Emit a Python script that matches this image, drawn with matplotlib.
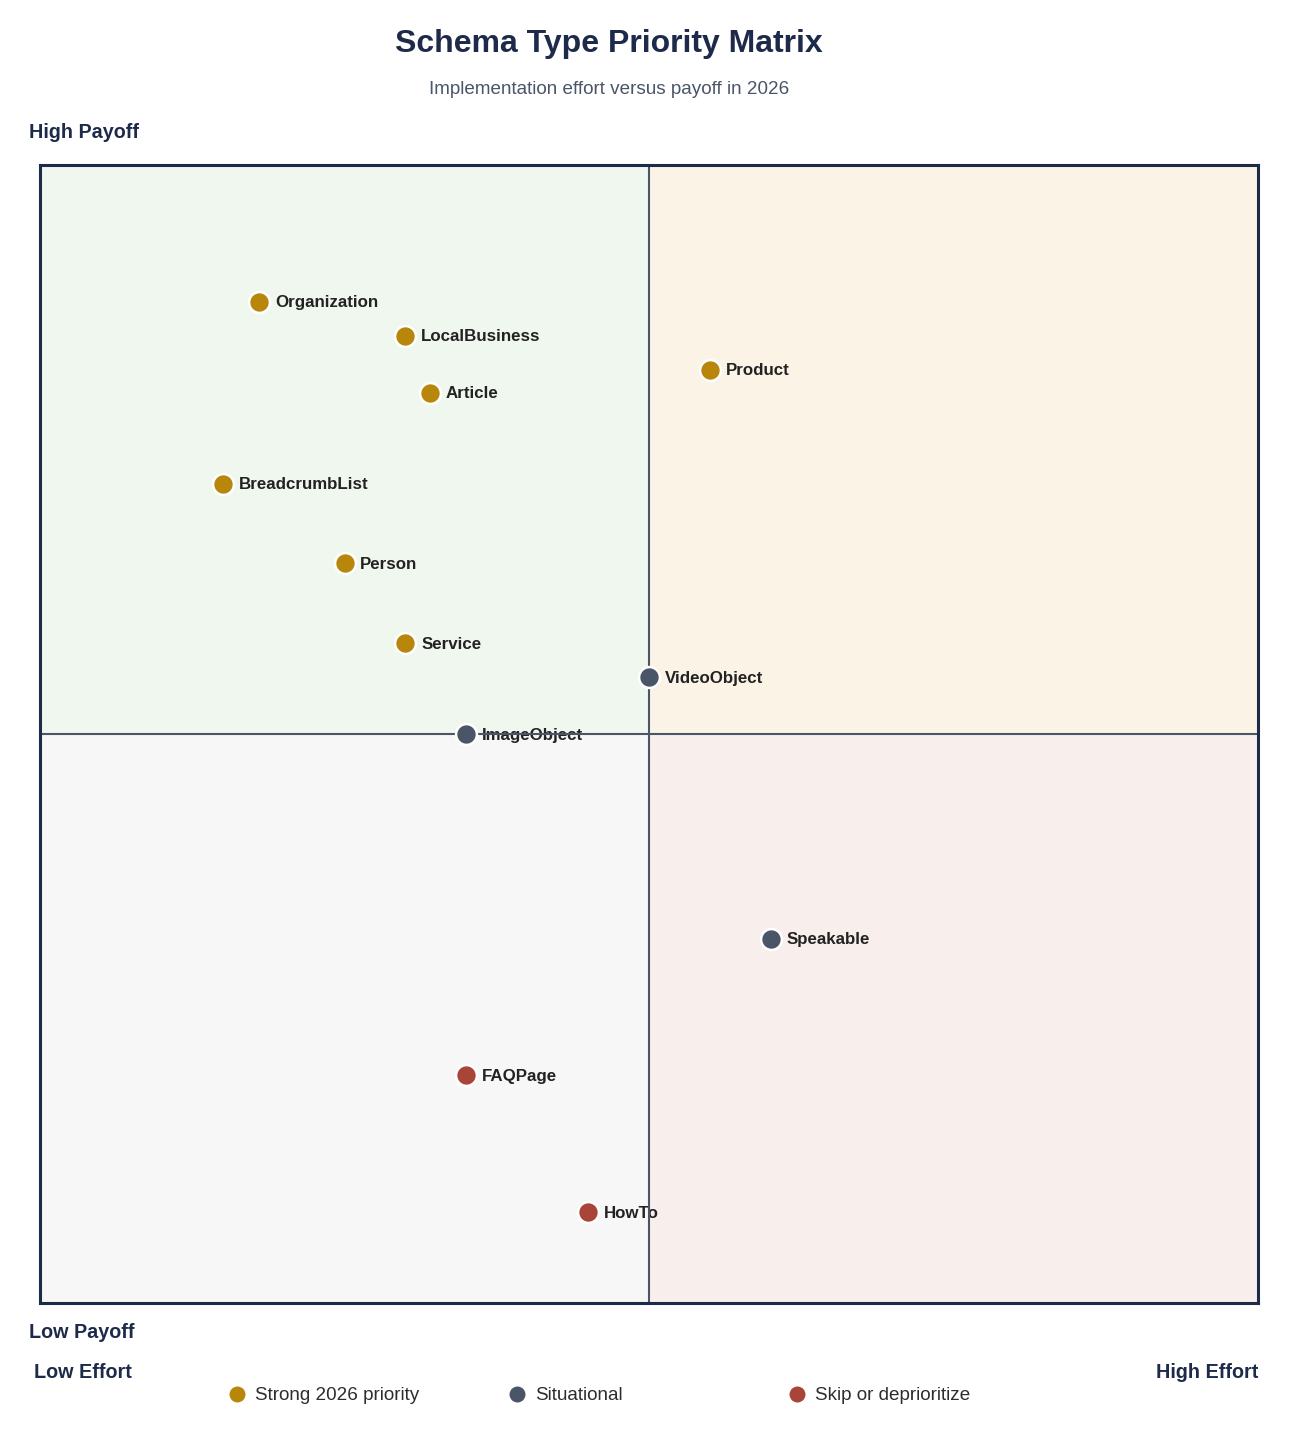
import matplotlib
matplotlib.use('Agg')
import matplotlib.pyplot as plt
from matplotlib.lines import Line2D

plt.rcParams['font.family'] = ['Liberation Sans', 'DejaVu Sans']

# schema types: effort (0-10) vs payoff (0-10)
names = ['Organization', 'LocalBusiness', 'Article', 'Product', 'BreadcrumbList',
         'Person', 'Service', 'VideoObject', 'ImageObject', 'Speakable', 'FAQPage', 'HowTo']
effort = [1.8, 3.0, 3.2, 5.5, 1.5, 2.5, 3.0, 5.0, 3.5, 6.0, 3.5, 4.5]
payoff = [8.8, 8.5, 8.0, 8.2, 7.2, 6.5, 5.8, 5.5, 5.0, 3.2, 2.0, 0.8]
status = ['strong', 'strong', 'strong', 'strong', 'strong', 'strong', 'strong',
          'situational', 'situational', 'situational', 'skip', 'skip']

status_labels = {'strong': 'Strong 2026 priority', 'situational': 'Situational',
                 'skip': 'Skip or deprioritize'}
colors = {'strong': '#b8860b', 'situational': '#4a5568', 'skip': '#a94438'}

navy = '#1e2a4a'

fig = plt.figure(figsize=(12.9, 14.35), dpi=100)
ax = fig.add_axes([40 / 1290, 132 / 1435, 1218 / 1290, 1138 / 1435])
ax.set_xlim(0, 10)
ax.set_ylim(0, 10)

# quadrant backgrounds
ax.fill_between([0, 5], 5, 10, color='#f0f7ee', zorder=0, lw=0)
ax.fill_between([5, 10], 5, 10, color='#faf3e6', zorder=0, lw=0)
ax.fill_between([0, 5], 0, 5, color='#f7f7f7', zorder=0, lw=0)
ax.fill_between([5, 10], 0, 5, color='#f8efec', zorder=0, lw=0)

for i, n in enumerate(names):
    ax.text(effort[i] + 0.13, payoff[i] - 0.01, n, fontsize=12.2, fontweight='bold',
            color='#222222', va='center', ha='left', zorder=2)

ax.axvline(5, color='#4a5568', lw=1.5, zorder=3)
ax.axhline(5, color='#4a5568', lw=1.5, zorder=3)

for i, n in enumerate(names):
    ax.plot(effort[i], payoff[i], 'o', ms=15, color=colors[status[i]],
            mec='white', mew=1.8, zorder=4)

ax.set_xticks([])
ax.set_yticks([])
for s in ax.spines.values():
    s.set_color(navy)
    s.set_linewidth(2.2)
    s.set_zorder(5)

fig.text(609 / 1290, 1 - 44 / 1435, 'Schema Type Priority Matrix', ha='center', va='center',
         fontsize=23, fontweight='bold', color=navy)
fig.text(609 / 1290, 1 - 89 / 1435, 'Implementation effort versus payoff in 2026', ha='center',
         va='center', fontsize=13.6, color='#4a5568')

fig.text(29 / 1290, 1 - 132 / 1435, 'High Payoff', ha='left', va='center',
         fontsize=14.2, fontweight='bold', color=navy)
fig.text(29 / 1290, 1 - 1332 / 1435, 'Low Payoff', ha='left', va='center',
         fontsize=14.2, fontweight='bold', color=navy)
fig.text(34 / 1290, 1 - 1372 / 1435, 'Low Effort', ha='left', va='center',
         fontsize=14.2, fontweight='bold', color=navy)
fig.text(1258 / 1290, 1 - 1372 / 1435, 'High Effort', ha='right', va='center',
         fontsize=14.2, fontweight='bold', color=navy)

# legend row
for k, key in enumerate(['strong', 'situational', 'skip']):
    x0 = (237 + 280 * k) / 1290
    y0 = 1 - 1394 / 1435
    fig.add_artist(Line2D([x0], [y0], marker='o', ms=11.5, color=colors[key],
                          mec='none', transform=fig.transFigure))
    fig.text(x0 + 18 / 1290, y0 - 1 / 1435, status_labels[key], ha='left', va='center',
             fontsize=13.6, color='#2d2d2d')

fig.savefig('out.png', dpi=100)
